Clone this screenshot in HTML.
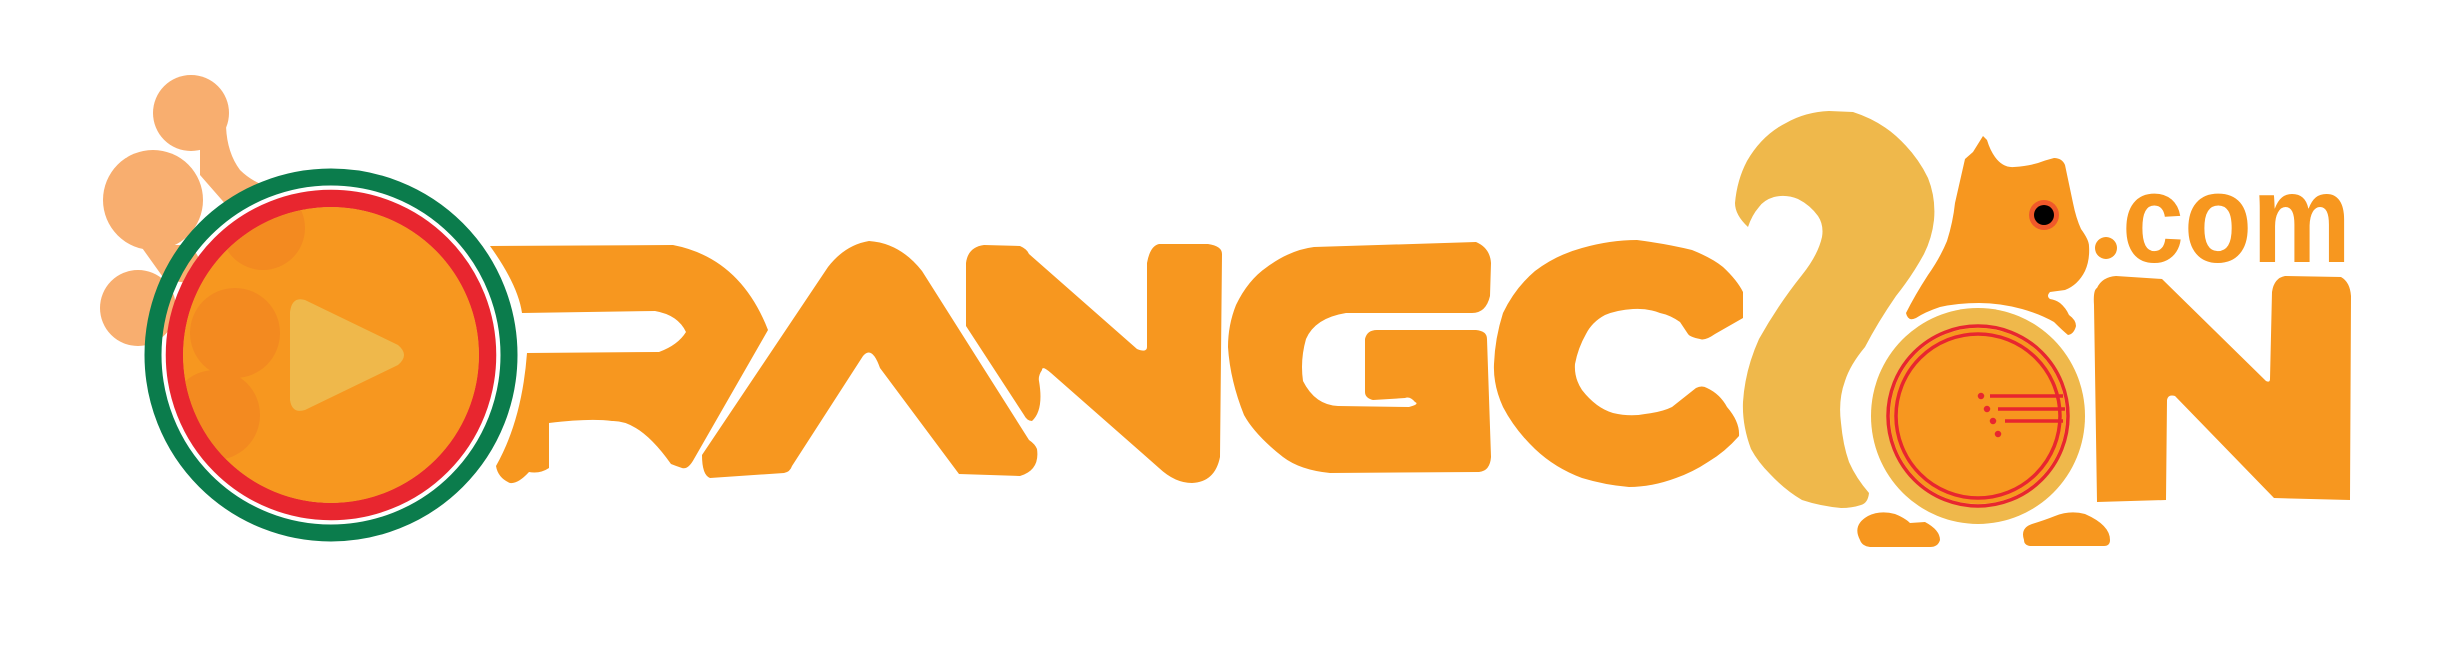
<!DOCTYPE html>
<html><head><meta charset="utf-8"><title>OrangeOn logo</title>
<style>html,body{margin:0;padding:0;background:#fff;width:2453px;height:664px;overflow:hidden}svg{display:block}</style></head>
<body>
<svg width="2453" height="664" viewBox="0 0 2453 664" xmlns="http://www.w3.org/2000/svg">
<defs><clipPath id="inner"><circle cx="331" cy="355" r="148"/></clipPath></defs>
<g fill="#F8AE6F">
<circle cx="191" cy="113" r="38"/>
<circle cx="153" cy="200" r="50"/>
<circle cx="138" cy="308" r="38"/>
<path d="M200,140 L226,118 Q225,150 240,170 Q250,180 265,186 L235,215 L200,175 Z"/>
<path d="M140,245 L190,245 Q205,262 205,285 L165,280 Z"/>
</g>
<circle cx="331" cy="355" r="178" fill="none" stroke="#0B7C4C" stroke-width="17"/>
<circle cx="331" cy="355" r="156.5" fill="none" stroke="#E8262F" stroke-width="17.5"/>
<circle cx="331" cy="355" r="148" fill="#F7971F"/>
<g clip-path="url(#inner)" fill="#F38A20">
<circle cx="263" cy="228" r="42"/>
<circle cx="235" cy="333" r="45"/>
<circle cx="215" cy="415" r="45"/>
</g>
<path fill="#EFB84B" d="M290,312 Q292,296 305,300 L398,345 Q410,355 398,365 L305,410 Q292,414 290,400 Z"/>
<g fill="#F7971F">
<path d="M490,246 L673,245 Q740,258 768,330 L694,459 Q688,470 682,468 Q676,466 671,464 Q640,420 612,421 Q590,418 549,423 L549,468 Q540,474 529,472 Q518,484 510,483 Q498,478 496,466 Q522,420 527,353 L659,352 Q678,345 686,332 Q678,315 655,311 L522,313 Q518,285 490,246 Z"/>
<path d="M869,241 Q845,245 828,267 L702,455 Q702,475 710,478 L784,473 Q790,472 792,466 L863,356 Q872,345 880,368 L959,474 L1020,476 Q1040,470 1037,449 Q1035,444 1029,440 L922,271 Q900,243 869,241 Z"/>
<path d="M966,263 Q968,247 984,245 L1020,246 Q1027,249 1029,254 L1137,349 Q1147,353 1147,347 L1147,263 Q1150,246 1159,244 L1208,244 Q1222,246 1222,254 L1220,457 Q1215,482 1192,483 Q1175,483 1159,468 L1051,373 Q1042,365 1042,370 Q1038,376 1039,381 Q1044,410 1032,421 Q1027,421 1024,415 L966,326 Z"/>
<path d="M1476,242 Q1490,248 1491,263 L1490,296 Q1486,313 1472,313 L1346,313 Q1315,318 1306,339 Q1300,360 1303,381 Q1315,405 1338,406 L1409,407 Q1420,404 1415,402 Q1410,396 1405,398 L1373,400 Q1365,398 1365,392 L1365,339 Q1367,330 1377,330 L1476,330 Q1487,331 1487,339 L1491,457 Q1490,471 1479,472 L1330,473 Q1300,470 1283,457 Q1255,435 1244,415 Q1230,380 1228,347 Q1228,325 1236,305 Q1248,280 1267,267 Q1290,250 1314,247 Z"/>
<path d="M1637,240 Q1668,244 1692,250 Q1712,258 1723,267 Q1737,280 1743,292 L1743,318 L1715,334 Q1705,341 1700,339 Q1690,337 1688,334 L1680,322 Q1670,315 1660,313 Q1647,308 1633,309 Q1617,310 1605,315 Q1592,322 1586,334 Q1578,348 1575,364 Q1574,378 1582,390 Q1596,408 1613,413 Q1630,417 1645,414 Q1662,412 1672,407 L1696,388 Q1702,385 1707,388 Q1720,394 1727,407 Q1740,422 1739,436 Q1725,452 1708,462 Q1693,472 1676,478 Q1652,487 1629,487 Q1605,485 1582,478 Q1555,468 1535,449 Q1515,430 1503,407 Q1493,385 1494,364 Q1495,338 1503,313 Q1515,288 1535,271 Q1556,255 1582,248 Q1610,240 1637,240 Z"/>
</g>
<path fill="#EFB84B" d="M1748,227 Q1735,215 1735,203 Q1737,180 1747,161 Q1762,135 1786,123 Q1805,112 1829,111 L1853,112 Q1878,120 1896,136 Q1917,155 1928,178 Q1936,198 1934,220 Q1932,238 1924,254 Q1912,276 1896,296 Q1878,322 1865,347 Q1850,365 1845,381 Q1838,400 1841,423 Q1843,445 1849,462 Q1856,478 1869,493 Q1868,503 1861,505 Q1852,508 1841,508 Q1820,506 1802,500 Q1785,490 1770,474 Q1758,462 1751,449 Q1742,425 1743,402 Q1745,370 1759,339 Q1778,305 1802,275 Q1818,255 1822,237 Q1824,225 1818,216 Q1810,205 1798,199 Q1786,194 1774,197 Q1764,200 1759,207 Q1752,215 1748,227 Z"/>
<path fill="#F7971F" d="M1906,313 Q1915,295 1928,275 Q1940,258 1947,241 Q1953,222 1955,203 L1965,159 L1973,152 L1983,136 L1987,140 Q1990,150 1995,157 Q2003,168 2014,167 Q2028,166 2038,163 Q2046,160 2054,158 Q2062,158 2065,165 L2073,203 Q2076,218 2081,229 Q2089,240 2089,246 Q2090,260 2085,271 Q2078,285 2065,290 L2050,292 Q2046,296 2050,299 Q2056,300 2060,303 Q2066,308 2069,315 Q2076,320 2076,326 Q2074,334 2068,335 Q2062,330 2054,322 Q2040,314 2022,309 Q2000,303 1979,303 Q1958,303 1940,307 Q1925,312 1916,318 Q1908,322 1906,313 Z"/>
<circle cx="2044" cy="215" r="15" fill="#F0592A"/>
<circle cx="2044" cy="215" r="10" fill="#000"/>
<g>
<ellipse cx="1978" cy="416" rx="107" ry="108" fill="#EFB84B"/>
<circle cx="1978" cy="416" r="88" fill="#F7971F"/>
<circle cx="1978" cy="416" r="90" fill="none" stroke="#E8262F" stroke-width="3.5"/>
<circle cx="1978" cy="416" r="82" fill="none" stroke="#E8262F" stroke-width="3.5"/>
<g stroke="#E8262F" stroke-width="3.5" fill="#E8262F">
<line x1="1990" y1="396" x2="2063" y2="396"/><line x1="1998" y1="409" x2="2065" y2="409"/><line x1="2005" y1="421" x2="2063" y2="421"/>
<circle cx="1981" cy="396" r="1.5"/><circle cx="1987" cy="409" r="1.5"/><circle cx="1993" cy="421" r="1.5"/><circle cx="1998" cy="434" r="1.5"/>
</g>
</g>
<path fill="#F7971F" d="M1860,540 Q1852,525 1868,516 Q1880,510 1895,514 Q1905,518 1910,523 L1925,522 Q1940,530 1940,540 Q1938,547 1930,547 L1870,547 Q1862,546 1860,540 Z"/>
<path fill="#F7971F" d="M2024,540 Q2020,528 2032,524 Q2045,520 2055,516 Q2070,510 2085,514 Q2110,525 2110,540 Q2110,546 2104,546 L2030,546 Q2024,545 2024,540 Z"/>
<circle cx="2106" cy="248" r="11" fill="#F7971F"/>
<text x="2122" y="262" font-family="'Liberation Sans', sans-serif" font-weight="bold" font-size="126" fill="#F7971F" textLength="229" lengthAdjust="spacingAndGlyphs">com</text>
<path fill="#F7971F" d="M2094,305 Q2093,290 2097,288 Q2102,277 2116,276 L2162,279 L2266,381 Q2270,383 2270,379 L2272,292 Q2274,278 2285,276 L2341,277 Q2350,282 2351,296 L2350,500 L2274,498 L2175,396 Q2168,394 2167,400 L2166,500 L2097,502 Z"/>
</svg>
</body></html>
